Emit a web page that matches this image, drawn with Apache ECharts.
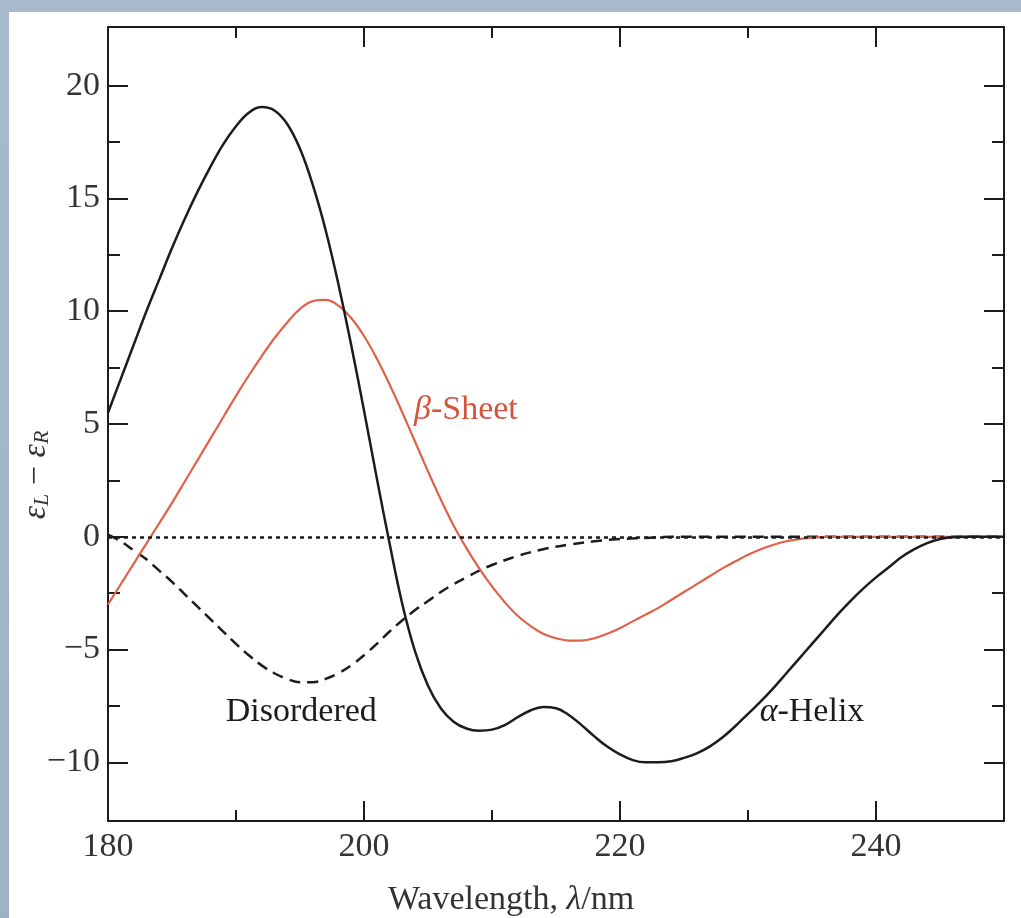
<!DOCTYPE html>
<html>
<head>
<meta charset="utf-8">
<script src="https://cdn.jsdelivr.net/npm/echarts@6.0.0/dist/echarts.min.js"></script>
<style>
html, body { margin: 0; padding: 0; }
body {
  width: 1021px;
  height: 918px;
  position: relative;
  overflow: hidden;
  background: linear-gradient(180deg, #aabacd, #9fb1c7);
}
.panel {
  position: absolute;
  left: 9px;
  top: 12px;
  width: 1012px;
  height: 906px;
  background: #fff;
}
#chart { width: 1012px; height: 906px; }
</style>
</head>
<body>
<div class="panel"><div id="chart"></div></div>
<script>
// wavelength (nm) and εL − εR
const helixNm = [180,181,182,183,184,185,186,187,188,189,190,191,192,193,194,195,196,197,198,199,200,201,202,203,204,205,206,207,208,209,210,211,212,213,214,215,216,217,218,219,220,221,222,223,224,225,226,227,228,229,230,231,232,233,234,235,236,237,238,239,240,241,242,243,244,245,246,247,250];
const helixVal = [5.5,7.0,8.5,10.0,11.4,12.8,14.1,15.3,16.4,17.4,18.2,18.8,19.05,18.9,18.3,17.2,15.6,13.6,11.2,8.5,5.6,2.6,-0.3,-3.0,-5.1,-6.6,-7.6,-8.2,-8.5,-8.6,-8.55,-8.35,-8.0,-7.7,-7.55,-7.6,-7.9,-8.35,-8.85,-9.3,-9.65,-9.9,-10.0,-10.0,-9.95,-9.8,-9.6,-9.3,-8.9,-8.4,-7.85,-7.3,-6.7,-6.05,-5.4,-4.75,-4.1,-3.45,-2.85,-2.3,-1.8,-1.35,-0.9,-0.55,-0.28,-0.1,-0.02,0,0];

const sheetNm = [180,181,182,183,184,185,186,187,188,189,190,191,192,193,194,195,196,197,198,199,200,201,202,203,204,205,206,207,208,209,210,211,212,213,214,215,216,217,218,219,220,221,222,223,224,225,226,227,228,229,230,231,232,233,234,235,236,250];
const sheetVal = [-3.0,-2.1,-1.2,-0.3,0.6,1.5,2.45,3.4,4.35,5.3,6.25,7.15,8.0,8.8,9.5,10.1,10.45,10.5,10.25,9.7,8.9,7.9,6.75,5.5,4.2,2.9,1.65,0.5,-0.5,-1.4,-2.2,-2.9,-3.5,-3.95,-4.3,-4.5,-4.6,-4.6,-4.5,-4.3,-4.05,-3.75,-3.45,-3.15,-2.8,-2.45,-2.1,-1.75,-1.4,-1.1,-0.8,-0.55,-0.35,-0.2,-0.1,-0.04,0,0];

const coilNm = [180,181,182,183,184,185,186,187,188,189,190,191,192,193,194,195,196,197,198,199,200,201,202,203,204,205,206,207,208,209,210,212,214,216,218,220,222,224,250];
const coilVal = [0.1,-0.2,-0.6,-1.0,-1.5,-2.0,-2.55,-3.1,-3.65,-4.2,-4.75,-5.25,-5.7,-6.05,-6.3,-6.45,-6.45,-6.3,-6.05,-5.7,-5.25,-4.75,-4.2,-3.7,-3.25,-2.85,-2.45,-2.1,-1.8,-1.5,-1.25,-0.85,-0.55,-0.35,-0.2,-0.1,-0.05,0,0];

// ticks
const xMajor = [180, 200, 220, 240];
const xMinor = [190, 210, 230];
const yMajor = [-10, -5, 0, 5, 10, 15, 20];
const yMinor = [-7.5, -2.5, 2.5, 7.5, 12.5, 17.5];

// curve labels: [text, wavelength, value]
const helixLabel = ['α-Helix', 235.0, -7.77];
const sheetLabel = ['β-Sheet', 207.96, 5.62];
const coilLabel = ['Disordered', 195.1, -7.77];

const serif = '"Liberation Serif", "DejaVu Serif", serif';
const ink = '#1c1c1c';
const red = '#e0614a';

const pairs = (xs, ys) => xs.map((x, i) => [x, ys[i]]);

// one axis; several are stacked on each side for major/minor ticks
function axis(type, position, min, max, ticks, len, labels) {
  return {
    type: 'value',
    position: position,
    min: min,
    max: max,
    axisLine: { show: len > 15, onZero: false, lineStyle: { color: ink, width: 2 } },
    axisTick: { show: true, inside: true, length: len, customValues: ticks, lineStyle: { color: ink, width: 2 } },
    axisLabel: {
      show: labels,
      customValues: ticks,
      margin: type === 'x' ? 9 : 8,
      color: '#333',
      fontFamily: serif,
      fontSize: 34,
      formatter: v => String(v).replace('-', '−')
    },
    splitLine: { show: false },
    axisPointer: { show: false }
  };
}

function markLabel(lbl, color) {
  return {
    symbol: 'circle',
    symbolSize: 0,
    silent: true,
    itemStyle: { color: 'transparent' },
    label: {
      show: true,
      position: 'inside',
      color: color,
      fontFamily: serif,
      fontSize: 34,
      formatter: () => lbl[0].replace(/^([αβ])/, '{g|$1}'),
      rich: { g: { fontFamily: serif, fontSize: 34, fontStyle: 'italic', color: color } }
    },
    data: [{ coord: [lbl[1], lbl[2]] }]
  };
}

const chart = echarts.init(document.getElementById('chart'));
const option = {
  animation: false,
  grid: { left: 99, top: 15, right: 17, bottom: 97, outerBoundsMode: 'none' },
  xAxis: [
    axis('x', 'bottom', 180, 250, xMajor, 20, true),
    axis('x', 'bottom', 180, 250, xMinor, 11, false),
    axis('x', 'top', 180, 250, xMajor, 20, false),
    axis('x', 'top', 180, 250, xMinor, 11, false)
  ],
  yAxis: [
    axis('y', 'left', -12.6, 22.6, yMajor, 20, true),
    axis('y', 'left', -12.6, 22.6, yMinor, 12, false),
    axis('y', 'right', -12.6, 22.6, yMajor, 20, false),
    axis('y', 'right', -12.6, 22.6, yMinor, 12, false)
  ],
  series: [
    {
      name: 'Disordered',
      type: 'line',
      data: pairs(coilNm, coilVal),
      showSymbol: false,
      smooth: 0.4,
      lineStyle: { color: ink, width: 2.5, type: [11, 7] },
      markLine: {
        silent: true,
        symbol: ['none', 'none'],
        label: { show: false },
        lineStyle: { color: ink, width: 2.5, type: [4, 4] },
        data: [{ yAxis: 0 }]
      },
      markPoint: markLabel(coilLabel, ink)
    },
    {
      name: 'β-Sheet',
      type: 'line',
      data: pairs(sheetNm, sheetVal),
      showSymbol: false,
      smooth: 0.4,
      lineStyle: { color: red, width: 2.2 },
      markPoint: markLabel(sheetLabel, '#d4553c')
    },
    {
      name: 'α-Helix',
      type: 'line',
      data: pairs(helixNm, helixVal),
      showSymbol: false,
      smooth: 0.4,
      lineStyle: { color: ink, width: 2.5 },
      markPoint: markLabel(helixLabel, ink)
    }
  ],
  graphic: [
    {
      // y axis title, rotated
      type: 'text',
      x: 27,
      y: 463,
      rotation: Math.PI / 2,
      style: {
        text: '{e|ε}{s|L} − {e|ε}{s|R}',
        align: 'center',
        verticalAlign: 'middle',
        fill: '#333',
        fontFamily: serif,
        fontSize: 34,
        rich: {
          e: { fontFamily: serif, fontSize: 34, fontStyle: 'italic', fill: '#333' },
          s: { fontFamily: serif, fontSize: 22, fontStyle: 'italic', fill: '#333', verticalAlign: 'bottom' }
        }
      }
    },
    {
      // x axis title
      type: 'text',
      x: 502,
      y: 888,
      style: {
        text: 'Wavelength, {i|λ}/nm',
        align: 'center',
        verticalAlign: 'middle',
        fill: '#333',
        fontFamily: serif,
        fontSize: 34,
        rich: {
          i: { fontFamily: serif, fontSize: 34, fontStyle: 'italic', fill: '#333' }
        }
      }
    }
  ]
};
option && chart.setOption(option);
</script>
</body>
</html>
